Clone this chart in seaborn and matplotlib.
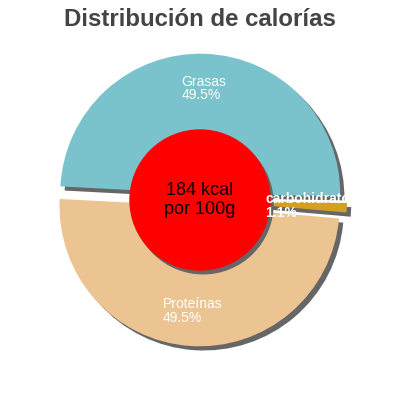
import matplotlib
matplotlib.use("Agg")
import matplotlib.pyplot as plt
import seaborn as sns
from matplotlib.patches import Circle, Rectangle

# values
categories = ["Grasas", "carbohidratos", "Proteínas"]
percents = [49.5, 1.1, 49.5]
slice_colors = ["#7AC3CC", "#D5A021", "#ECC492"]
kcal_text = "184 kcal\npor 100g"
title = "Distribución de calorías"

sns.set_theme(style="white")
plt.rcParams['font.family'] = ['Liberation Sans', 'DejaVu Sans']

fig = plt.figure(figsize=(4, 4), dpi=100)
ax = fig.add_axes([0, 0, 1, 1])

explode = [0.045, 0.05, 0.045]
labels = [f"{c}\n{p}%" for c, p in zip(categories, percents)]

# shadow pie first, offset right/down
ax.pie(percents, explode=explode, colors=["#666666"] * 3, startangle=177,
       counterclock=False, center=(0.03, -0.03), radius=1.0,
       wedgeprops={'linewidth': 0})

wedges, texts = ax.pie(percents, explode=explode, colors=slice_colors,
                       startangle=177, counterclock=False, radius=1.0,
                       labels=labels, labeldistance=0.75,
                       wedgeprops={'linewidth': 0},
                       textprops={'color': 'white', 'fontsize': 10})

# centre disc with its shadow
ax.add_patch(Circle((0.022, -0.027), 0.5, color="#666666", zorder=5))
ax.add_patch(Circle((0, 0), 0.5, color="#FF0000", zorder=6))
ax.text(0, 0, kcal_text, ha='center', va='center', fontsize=13,
        color='black', zorder=7, linespacing=1.1)

for t in texts:
    t.set_ha('center')
    t.set_va('center')
    t.set_multialignment('left')
    t.set_linespacing(0.95)
    t.set_zorder(8)
texts[1].set_fontweight('bold')

# the small slice label is cut at the edge in the reference
clip = Rectangle((-1.5, -1.5), 1.5 + 1.05, 3.0, transform=ax.transData)
texts[1].set_clip_path(clip)

ax.set_xlim(-200 / 140, 200 / 140)
ax.set_ylim(-200 / 140, 200 / 140)
ax.set_aspect('equal')
ax.axis('off')

fig.text(0.5, 1 - 19 / 400, title, ha='center', va='center',
         fontsize=17.3, fontweight='bold', color='#444444')

fig.savefig("out.png", dpi=100)
